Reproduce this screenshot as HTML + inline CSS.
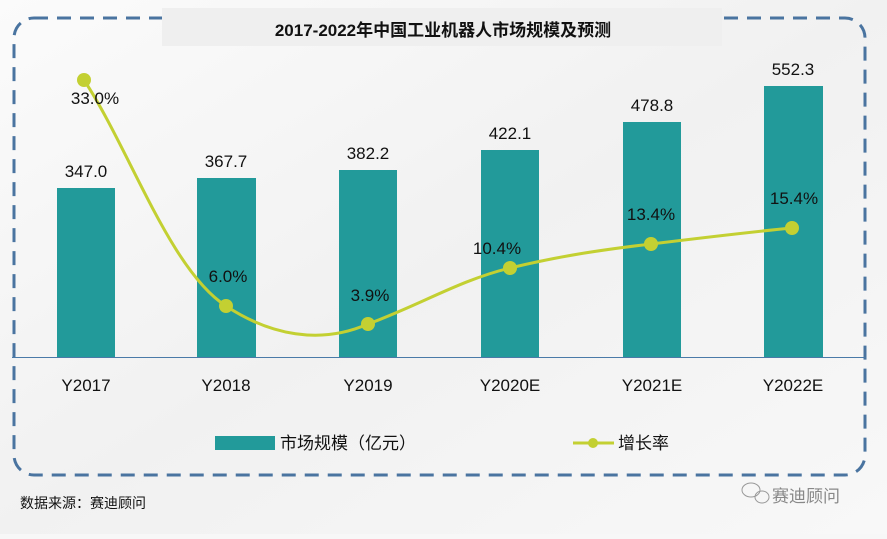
<!DOCTYPE html>
<html><head><meta charset="utf-8"><style>
body{margin:0;width:887px;height:534px;overflow:hidden;background:#f7f7f7;font-family:"Liberation Sans","Noto Sans CJK SC",sans-serif}
</style></head><body>
<svg width="887" height="534" xmlns="http://www.w3.org/2000/svg" font-family="Liberation Sans, Noto Sans CJK SC, sans-serif">
<defs><linearGradient id="bg" x1="0" y1="0" x2="1" y2="1"><stop offset="0" stop-color="#fbfbfb"/><stop offset="0.5" stop-color="#f1f1f1"/><stop offset="1" stop-color="#f8f8f8"/></linearGradient></defs>
<rect width="887" height="534" fill="url(#bg)"/>
<rect x="14" y="18" width="851" height="457" rx="20" fill="none" stroke="#4a74a0" stroke-width="3" stroke-dasharray="14,9"/>
<rect x="162" y="8" width="560" height="38" fill="#efefef"/>
<text x="443" y="36" text-anchor="middle" font-size="17" font-weight="bold" fill="#111">2017-2022年中国工业机器人市场规模及预测</text>
<g fill="#229a9a">
<rect x="57" y="188" width="58" height="169"/>
<rect x="197" y="178" width="59" height="179"/>
<rect x="339" y="170" width="58" height="187"/>
<rect x="481" y="150" width="58" height="207"/>
<rect x="623" y="122" width="58" height="235"/>
<rect x="764" y="86" width="59" height="271"/>
</g>
<line x1="12" y1="357.5" x2="866" y2="357.5" stroke="#4a7aa8" stroke-width="1"/>
<g font-size="17" fill="#111" text-anchor="middle">
<text x="86" y="177">347.0</text><text x="226" y="167">367.7</text><text x="368" y="159">382.2</text>
<text x="510" y="139">422.1</text><text x="652" y="111">478.8</text><text x="793" y="75">552.3</text>
<text x="86" y="391">Y2017</text><text x="226" y="391">Y2018</text><text x="368" y="391">Y2019</text>
<text x="510" y="391">Y2020E</text><text x="652" y="391">Y2021E</text><text x="793" y="391">Y2022E</text>
</g>
<path d="M84,80 C130,150 170,270 226,306 C270,335 320,345 368,324 C420,305 460,280 510,268 C560,256 600,250 651,244 C700,238 750,232 792,228" fill="none" stroke="#c3d032" stroke-width="3"/>
<g fill="#c3d032"><circle cx="84" cy="80" r="7"/><circle cx="226" cy="306" r="7"/><circle cx="368" cy="324" r="7"/><circle cx="510" cy="268" r="7"/><circle cx="651" cy="244" r="7"/><circle cx="792" cy="228" r="7"/></g>
<g font-size="17" fill="#111" text-anchor="middle">
<text x="95" y="104">33.0%</text><text x="228" y="282">6.0%</text><text x="370" y="301">3.9%</text>
<text x="497" y="254">10.4%</text><text x="651" y="220">13.4%</text><text x="794" y="204">15.4%</text>
</g>
<rect x="215" y="436" width="60" height="14" fill="#229a9a"/>
<text x="280" y="449" font-size="17" fill="#111">市场规模（亿元）</text>
<line x1="573" y1="443" x2="614" y2="443" stroke="#c3d032" stroke-width="3"/>
<circle cx="593" cy="443" r="5" fill="#c3d032"/>
<text x="618" y="449" font-size="17" fill="#111">增长率</text>
<text x="20" y="508" font-size="14" fill="#111">数据来源：赛迪顾问</text>
<g fill="none" stroke="#999" stroke-width="1"><ellipse cx="751" cy="490" rx="9" ry="7"/><ellipse cx="762" cy="497" rx="7" ry="6"/></g>
<text x="772" y="502" font-size="17" fill="#888">赛迪顾问</text>
</svg>
</body></html>
